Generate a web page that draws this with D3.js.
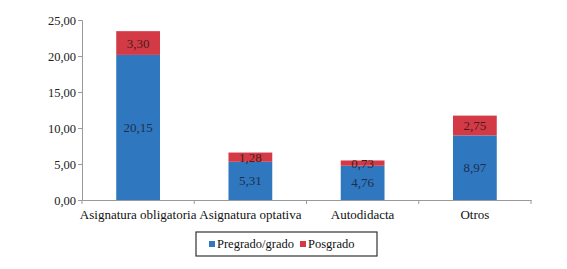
<!DOCTYPE html>
<html>
<head>
<meta charset="utf-8">
<script src="https://cdn.jsdelivr.net/npm/d3@7"></script>
<style>
  body { margin: 0; background: #fff; }
</style>
</head>
<body>
<svg id="chart" width="567" height="269"></svg>
<script>
// datos
const categories = ["Asignatura obligatoria", "Asignatura optativa", "Autodidacta", "Otros"];
const pregrado = [20.15, 5.31, 4.76, 8.97];
const posgrado = [3.30, 1.28, 0.73, 2.75];
const yTicks = [0, 5, 10, 15, 20, 25];
const seriesNames = ["Pregrado/grado", "Posgrado"];
const colors = ["#2f78bf", "#d43a45"];

const FONT = "'Times New Roman', 'Liberation Serif', 'DejaVu Serif', serif";
const svg = d3.select("#chart");
const margin = { top: 20, right: 36, bottom: 69, left: 82 };
const width = 567 - margin.left - margin.right;
const height = 269 - margin.top - margin.bottom;

const fmt = v => v.toFixed(2).replace(".", ",");

const x = d3.scaleBand().domain(categories).range([0, width]).paddingInner(0.61).paddingOuter(0.305);
const y = d3.scaleLinear().domain([0, 25]).range([height, 0]);

const g = svg.append("g").attr("transform", `translate(${margin.left},${margin.top})`);

// eje y
const yAxis = g.append("g")
  .call(d3.axisLeft(y).tickValues(yTicks).tickSize(4).tickFormat(fmt))
  .attr("font-family", null);
yAxis.select(".domain").attr("stroke", "#9a9a9a");
yAxis.selectAll(".tick line").attr("stroke", "#9a9a9a");
yAxis.selectAll(".tick text").attr("fill", "#222").attr("font-size", 12.5).attr("x", -6)
  .style("font-family", FONT);

// eje x
const xAxis = g.append("g").attr("transform", `translate(0,${height})`)
  .call(d3.axisBottom(x).tickSize(0).tickFormat(""));
xAxis.select(".domain").attr("stroke", "#9a9a9a");
xAxis.selectAll(".tick").remove();
// marcas entre categorias
const step = x.step();
d3.range(categories.length + 1).forEach(i => {
  g.append("line")
    .attr("x1", i * step).attr("x2", i * step)
    .attr("y1", height).attr("y2", height + 4)
    .attr("stroke", "#9a9a9a");
});

g.selectAll(".cat")
  .data(categories)
  .enter()
  .append("text")
  .attr("class", "cat")
  .attr("x", d => x(d) + x.bandwidth() / 2)
  .attr("y", height + 19)
  .attr("text-anchor", "middle")
  .style("font-family", FONT)
  .attr("font-size", 13)
  .attr("fill", "#111")
  .text(d => d);

// barras apiladas
const rows = categories.map((c, i) => ({ cat: c, pre: pregrado[i], pos: posgrado[i] }));

g.selectAll(".bar-pre")
  .data(rows)
  .enter()
  .append("rect")
  .attr("x", d => x(d.cat))
  .attr("width", x.bandwidth())
  .attr("y", d => y(d.pre))
  .attr("height", d => y(0) - y(d.pre))
  .attr("fill", colors[0]);

g.selectAll(".bar-pos")
  .data(rows)
  .enter()
  .append("rect")
  .attr("x", d => x(d.cat))
  .attr("width", x.bandwidth())
  .attr("y", d => y(d.pre + d.pos))
  .attr("height", d => y(d.pre) - y(d.pre + d.pos))
  .attr("fill", colors[1]);

// etiquetas de valor
g.selectAll(".lab-pre")
  .data(rows)
  .enter()
  .append("text")
  .attr("x", d => x(d.cat) + x.bandwidth() / 2)
  .attr("y", d => (y(0) + y(d.pre)) / 2)
  .attr("dy", "0.35em")
  .attr("text-anchor", "middle")
  .style("font-family", FONT)
  .attr("font-size", 13)
  .attr("fill", "#1d2f4f")
  .text(d => fmt(d.pre));

g.selectAll(".lab-pos")
  .data(rows)
  .enter()
  .append("text")
  .attr("x", d => x(d.cat) + x.bandwidth() / 2)
  .attr("y", d => (y(d.pre) + y(d.pre + d.pos)) / 2)
  .attr("dy", "0.35em")
  .attr("text-anchor", "middle")
  .style("font-family", FONT)
  .attr("font-size", 13)
  .attr("fill", "#4a1a1e")
  .text(d => fmt(d.pos));

// leyenda
const legend = svg.append("g").attr("transform", "translate(196,232)");
legend.append("rect")
  .attr("width", 181).attr("height", 24)
  .attr("fill", "#fff").attr("stroke", "#333").attr("stroke-width", 1.2);
const lx = [13, 104];
seriesNames.forEach((s, i) => {
  legend.append("rect")
    .attr("x", lx[i]).attr("y", 9)
    .attr("width", 6).attr("height", 6)
    .attr("fill", colors[i]);
  legend.append("text")
    .attr("x", lx[i] + 8).attr("y", 12)
    .attr("dy", "0.35em")
    .style("font-family", FONT)
    .attr("font-size", 12.5)
    .attr("fill", "#111")
    .text(s);
});
</script>
</body>
</html>
